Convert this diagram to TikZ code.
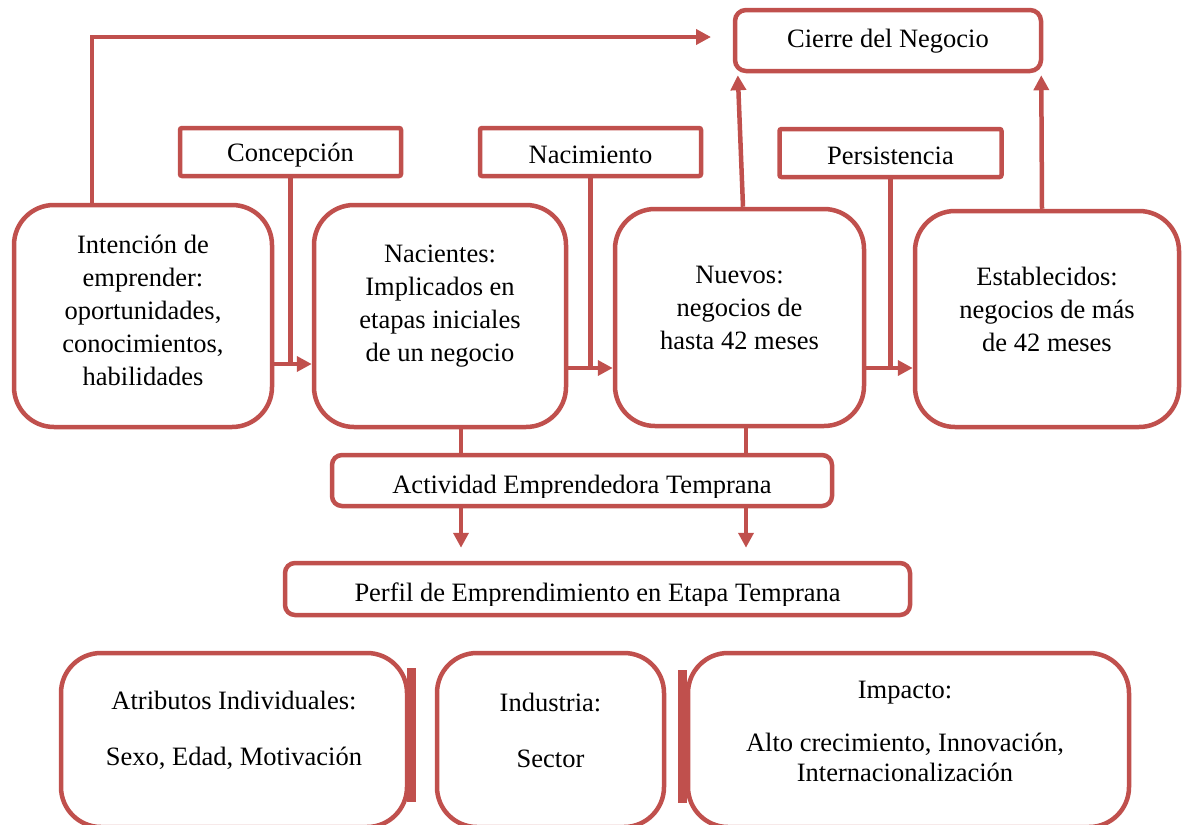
\documentclass[tikz,border=0pt]{standalone}
\usepackage{fontspec}
\setmainfont{Liberation Serif}
\usetikzlibrary{arrows.meta,calc}
\definecolor{acc}{HTML}{C0504D}
\begin{document}
\begin{tikzpicture}[x=1pt,y=-1pt,
  box/.style={draw=acc,line width=4.5pt,rectangle,inner sep=0pt},
  bigbox/.style={box,rounded corners=40pt},
  midbox/.style={box,rounded corners=11pt},
  smallbox/.style={box,rounded corners=2pt},
  txt/.style={font=\fontsize{26.5}{33}\selectfont,align=center,inner sep=0pt,text=black},
  conn/.style={draw=acc,line width=4.5pt},
  arr/.style={conn,-{Triangle[length=15pt,width=15pt]}},
  bar/.style={draw=acc,line width=8.5pt}]
\useasboundingbox (0,0) rectangle (1187,825);
\clip (0,0) rectangle (1187,825);
% boxes
\node[midbox,minimum width=306pt,minimum height=61pt] (cie) at (888,40.5) {};
\node[txt] at (888,41) {Cierre del Negocio};
\node[smallbox,minimum width=221pt,minimum height=48pt] (con) at (290.5,152) {};
\node[txt] at (290.5,155) {Concepción};
\node[smallbox,minimum width=221pt,minimum height=48pt] (nam) at (590.5,152) {};
\node[txt] at (590.5,155) {Nacimiento};
\node[smallbox,minimum width=222pt,minimum height=48pt] (per) at (890.5,153) {};
\node[txt] at (890.5,156) {Persistencia};
\node[bigbox,minimum width=258pt,minimum height=222pt] (int) at (143,316) {};
\node[txt] at (143,310) {Intención de\\emprender:\\oportunidades,\\conocimientos,\\habilidades};
\node[bigbox,minimum width=252pt,minimum height=222pt] (nac) at (440,316) {};
\node[txt] at (440,306) {Nacientes:\\Implicados en\\etapas iniciales\\de un negocio};
\node[bigbox,minimum width=249pt,minimum height=217pt] (nue) at (739.5,317.5) {};
\node[txt] at (739.5,308) {Nuevos:\\negocios de\\hasta 42 meses};
\node[bigbox,minimum width=264pt,minimum height=216pt] (est) at (1047,319) {};
\node[txt] at (1047,309) {Establecidos:\\negocios de más\\de 42 meses};
\node[midbox,rounded corners=10pt,minimum width=500pt,minimum height=51pt] (act) at (582,480.5) {};
\node[midbox,rounded corners=10pt,minimum width=625pt,minimum height=52pt] (pef) at (597.5,589) {};
\begin{scope}
\clip ([xshift=3pt,yshift=-3pt]act.north west) rectangle ([xshift=-3pt,yshift=11pt]act.south east);
\node[txt,anchor=base] (actt) at (582,493) {Actividad Emprendedora Temprana};
\end{scope}
\begin{scope}
\clip ([xshift=3pt,yshift=-3pt]pef.north west) rectangle ([xshift=-3pt,yshift=12pt]pef.south east);
\node[txt,anchor=base] (peft) at (597.5,601) {Perfil de Emprendimiento en Etapa Temprana};
\end{scope}
\node[bigbox,minimum width=346pt,minimum height=174pt] (atr) at (234,740) {};
\node[txt] at (234,730) {Atributos Individuales:\\[23pt]Sexo, Edad, Motivación};
\node[bigbox,minimum width=227pt,minimum height=174pt] (ind) at (550.5,740) {};
\node[txt] at (550.5,730) {Industria:\\[23pt]Sector};
\node[bigbox,minimum width=441pt,minimum height=174pt] (imp) at (908.5,740) {};
\node[txt,font=\fontsize{26.5}{30}\selectfont] at (905,731) {Impacto:\\[23pt]Alto crecimiento, Innovación,\\Internacionalización};
\draw[bar] ([xshift=2pt]atr.east |- 0,668) -- ([xshift=2pt]atr.east |- 0,802);
\draw[bar] ([xshift=-3.5pt]imp.west |- 0,670) -- ([xshift=-3.5pt]imp.west |- 0,803);
% connectors
\coordinate (tgt) at (711,37);
\draw[arr] ([xshift=-51pt]int.north) |- (tgt);
\draw[arr] (int.east |- 0,364) -- (nac.west |- 0,364);
\draw[conn] (con.south) -- (con.south |- 0,364);
\draw[arr] (nac.east |- 0,368) -- (nue.west |- 0,368);
\draw[conn] (nam.south) -- (nam.south |- 0,368);
\draw[arr] (nue.east |- 0,368) -- (est.west |- 0,368);
\draw[conn] (per.south) -- (per.south |- 0,368);
\draw[arr,shorten >=2pt] ([xshift=3.5pt]nue.north) -- ([xshift=5pt]cie.south west);
\draw[arr,shorten >=2pt] ([xshift=-5pt]est.north) -- ([xshift=-2pt]cie.south east);
\draw[conn] ([xshift=21pt]nac.south) -- ([xshift=21pt]nac.south |- act.north);
\draw[conn] ([xshift=6.5pt]nue.south) -- ([xshift=6.5pt]nue.south |- act.north);
\draw[arr,shorten >=13pt] ([xshift=-121pt]act.south) -- ([xshift=-121pt]act.south |- pef.north);
\draw[arr,shorten >=13pt] ([xshift=164pt]act.south) -- ([xshift=164pt]act.south |- pef.north);
\end{tikzpicture}
\end{document}
